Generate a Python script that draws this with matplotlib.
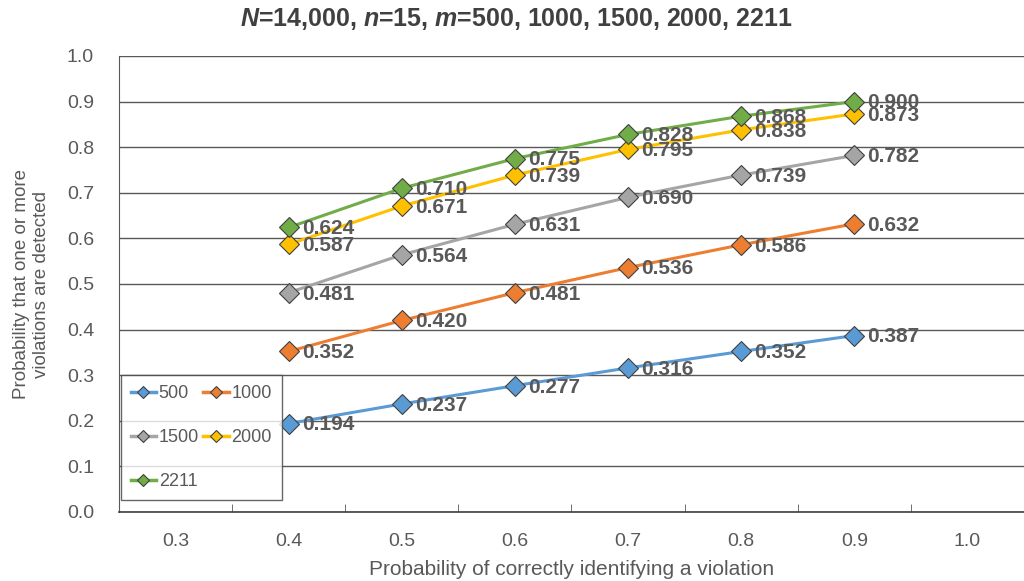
import numpy as np
import matplotlib
matplotlib.use('Agg')
import matplotlib.pyplot as plt

plt.rcParams['font.family'] = ['Liberation Sans', 'DejaVu Sans']
plt.rcParams['mathtext.fontset'] = 'custom'
plt.rcParams['mathtext.bfit'] = 'Liberation Sans:bold:italic'
plt.rcParams['mathtext.bf'] = 'Liberation Sans:bold'

x = [0.4, 0.5, 0.6, 0.7, 0.8, 0.9]
series_names = ['500', '1000', '1500', '2000', '2211']
m500 = [0.194, 0.237, 0.277, 0.316, 0.352, 0.387]
m1000 = [0.352, 0.420, 0.481, 0.536, 0.586, 0.632]
m1500 = [0.481, 0.564, 0.631, 0.690, 0.739, 0.782]
m2000 = [0.587, 0.671, 0.739, 0.795, 0.838, 0.873]
m2211 = [0.624, 0.710, 0.775, 0.828, 0.868, 0.900]
series = [m500, m1000, m1500, m2000, m2211]
colors = ['#5B9BD5', '#ED7D31', '#A5A5A5', '#FFC000', '#70AD47']

grey = '#595959'

fig = plt.figure(figsize=(10.24, 5.81), dpi=100)
ax = fig.add_axes([119 / 1024, 69 / 581, 905 / 1024, 456 / 581])

handles = []
for name, vals, c in zip(series_names, series, colors):
    h, = ax.plot(x, vals, color=c, lw=2.2, marker='D', markersize=10,
                 markerfacecolor=c, markeredgecolor='#404040', markeredgewidth=0.8,
                 label=name, zorder=3)
    handles.append(h)
    for xi, yi in zip(x, vals):
        ax.annotate(f'{yi:.3f}', (xi, yi), xytext=(9.5, -1), textcoords='offset points',
                    ha='left', va='center', fontsize=15, fontweight='bold',
                    color=grey, zorder=4)

ax.set_xlim(0.25, 1.05)
ax.set_ylim(0, 1.0)
ax.set_xticks(np.arange(0.3, 1.01, 0.1))
ax.set_xticklabels([f'{v:.1f}' for v in np.arange(0.3, 1.01, 0.1)])
ax.set_xticks(np.arange(0.35, 1.0, 0.1), minor=True)
ax.tick_params(axis='x', which='major', length=0, pad=15, labelsize=14, labelcolor=grey)
ax.tick_params(axis='x', which='minor', direction='in', length=6, color=grey)
ax.set_yticks(np.arange(0, 1.01, 0.1))
ax.set_yticklabels([f'{v:.1f}' for v in np.arange(0, 1.01, 0.1)])
ax.tick_params(axis='y', length=0, labelsize=14, labelcolor=grey, pad=18)

ax.grid(axis='y', color=grey, lw=1)
ax.set_axisbelow(True)
ax.spines['top'].set_visible(False)
ax.spines['right'].set_visible(False)
ax.spines['left'].set_color(grey)
ax.spines['bottom'].set_color('#404040')
ax.spines['bottom'].set_linewidth(1.2)

ax.set_xlabel('Probability of correctly identifying a violation', fontsize=15, color=grey, labelpad=7)
ax.set_ylabel('Probability that one or more\nviolations are detected', fontsize=13.5, color=grey, labelpad=12)

fig.text(0.504, 0.968, r'$\mathbfit{N}$=14,000, $\mathbfit{n}$=15, $\mathbfit{m}$=500, 1000, 1500, 2000, 2211',
         ha='center', va='center', fontsize=18, fontweight='bold', color='#404040')

# legend rows: 500 1000 / 1500 2000 / 2211 (matplotlib fills columns first)
order = [0, 2, 4, 1, 3]
leg = ax.legend([handles[i] for i in order], [series_names[i] for i in order],
                loc='upper left', bbox_to_anchor=(0.002, 0.300),
                ncol=2, fontsize=13, frameon=True, fancybox=False, borderaxespad=0,
                borderpad=0.55, handlelength=1.4, handletextpad=0.15, columnspacing=0.25,
                labelspacing=1.5, markerscale=0.6, labelcolor=grey)
leg.get_frame().set_edgecolor('#404040')
leg.get_frame().set_linewidth(1)
for lh in leg.get_lines():
    lh.set_linewidth(2.5)

fig.savefig('out.png', dpi=100)
